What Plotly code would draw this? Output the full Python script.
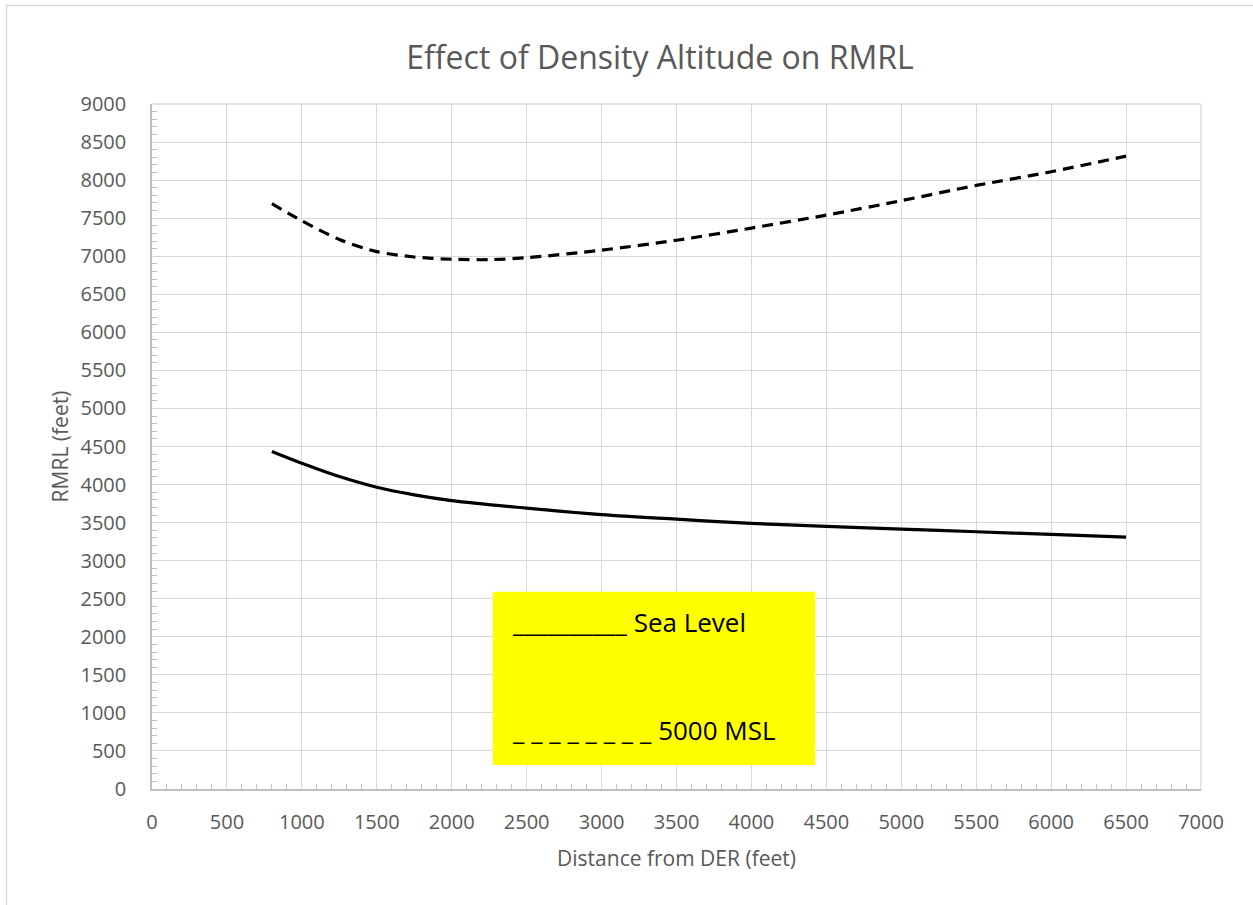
import plotly.graph_objects as go

# Data
dist_sea = [800, 1000, 1250, 1500, 1750, 2000, 2500, 3000, 3500, 4000, 4500, 5000, 5500, 6000, 6500]
rmrl_sea = [4435, 4280, 4105, 3965, 3865, 3790, 3690, 3605, 3545, 3490, 3450, 3415, 3380, 3345, 3310]

dist_msl = [800, 1000, 1250, 1500, 1750, 2000, 2250, 2500, 3000, 3500, 4000, 4500, 5000, 5500, 6000, 6500]
rmrl_msl = [7690, 7465, 7220, 7060, 6990, 6960, 6955, 6980, 7080, 7210, 7370, 7540, 7730, 7930, 8110, 8315]

title_text = "Effect of Density Altitude on RMRL"
x_title = "Distance from DER (feet)"
y_title = "RMRL (feet)"
legend_lines = ["__________ Sea Level", "_ _ _ _ _ _ _ _ 5000 MSL"]

FONT = "Open Sans"
GREY = "#595959"

fig = go.Figure()
fig.add_trace(go.Scatter(x=dist_sea, y=rmrl_sea, mode="lines",
                         line=dict(color="black", width=3.2, shape="spline", smoothing=1),
                         showlegend=False, hoverinfo="skip"))
fig.add_trace(go.Scatter(x=dist_msl, y=rmrl_msl, mode="lines",
                         line=dict(color="black", width=3.2, shape="spline", smoothing=0.8, dash="11px,7px"),
                         showlegend=False, hoverinfo="skip"))

axis_common = dict(
    showgrid=True, gridcolor="#d9d9d9", gridwidth=1.3,
    showline=True, linecolor="#bfbfbf", linewidth=1.5,
    zeroline=False, ticks="",
    tickfont=dict(family=FONT, size=20, color=GREY),
    minor=dict(dtick=100, ticks="inside", ticklen=5, tickcolor="#bfbfbf", tickwidth=1, showgrid=False),
)

fig.update_xaxes(range=[0, 7000], dtick=500, tick0=0, ticklabelstandoff=14,
                 title=dict(text=x_title, font=dict(family=FONT, size=21, color=GREY), standoff=18),
                 **axis_common)
fig.update_yaxes(range=[0, 9000], dtick=500, tick0=0, ticklabelstandoff=20,
                 title=dict(text=y_title, font=dict(family=FONT, size=21, color=GREY), standoff=6),
                 **axis_common)

# frame lines: top and right of plot area
fig.add_shape(type="line", xref="paper", yref="paper", x0=0, x1=1, y0=1, y1=1, line=dict(color="#d9d9d9", width=1.3), layer="below")
fig.add_shape(type="line", xref="paper", yref="paper", x0=1, x1=1, y0=0, y1=1, line=dict(color="#d9d9d9", width=1.3), layer="below")

# outer chart border
fig.add_shape(type="rect", xref="paper", yref="paper",
              x0=(6.5 - 152) / 1049, x1=(1300 - 152) / 1049,
              y0=(789 - 960) / 685, y1=(789 - 5.5) / 685,
              line=dict(color="#d9d9d9", width=1.5), fillcolor="rgba(0,0,0,0)", layer="below")

# legend box
fig.add_shape(type="rect", xref="x", yref="y", x0=2275, x1=4425, y0=315, y1=2590,
              fillcolor="#ffff00", line=dict(width=0), layer="above")
fig.add_annotation(x=2390, y=2190, xref="x", yref="y", text=legend_lines[0], showarrow=False,
                   xanchor="left", yanchor="middle", font=dict(family=FONT, size=26, color="black"))
fig.add_annotation(x=2390, y=770, xref="x", yref="y", text=legend_lines[1], showarrow=False,
                   xanchor="left", yanchor="middle", font=dict(family=FONT, size=26, color="black"))

fig.update_layout(
    width=1253, height=905,
    margin=dict(l=152, r=52, t=104, b=116),
    paper_bgcolor="white", plot_bgcolor="white",
    title=dict(text=title_text, xref="container", x=660 / 1253, xanchor="center", y=1 - 58 / 905, yanchor="middle",
               font=dict(family=FONT, size=32, color=GREY)),
)

fig.write_html("out.html", post_script="document.body.style.margin='0px';",
               config={"displayModeBar": False})
